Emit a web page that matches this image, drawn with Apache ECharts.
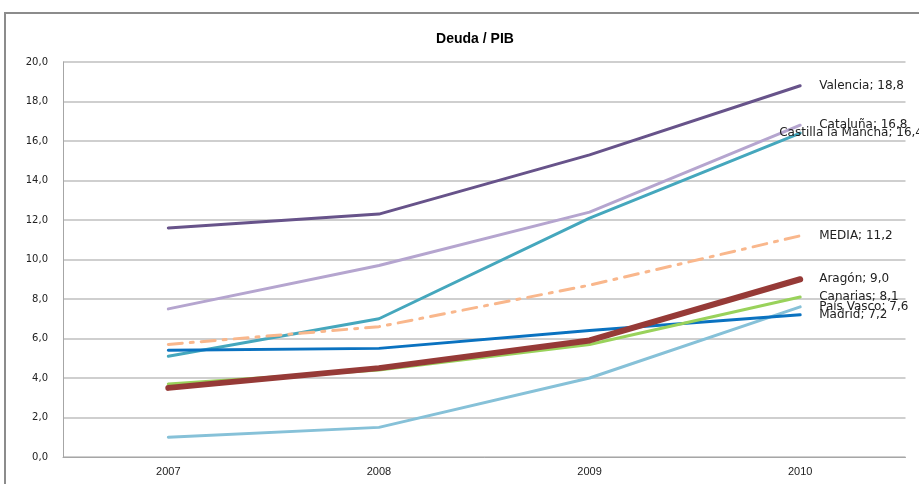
<!DOCTYPE html>
<html>
<head>
<meta charset="utf-8">
<script src="https://cdn.jsdelivr.net/npm/echarts@6/dist/echarts.min.js"></script>
<style>
  html, body { margin: 0; padding: 0; background: #fff; }
  #chart { width: 919px; height: 484px; }
</style>
</head>
<body>
<div id="chart"></div>
<script>
// datos
const years = ['2007', '2008', '2009', '2010'];
const valencia = [11.6, 12.3, 15.3, 18.8];
const cataluna = [7.5, 9.7, 12.4, 16.8];
const castilla = [5.1, 7.0, 12.1, 16.4];
const media = [5.7, 6.6, 8.7, 11.2];
const aragon = [3.5, 4.5, 5.9, 9.0];
const canarias = [3.7, 4.4, 5.7, 8.1];
const paisVasco = [1.0, 1.5, 4.0, 7.6];
const madrid = [5.4, 5.5, 6.4, 7.2];

const chart = echarts.init(document.getElementById('chart'));

// formato con coma decimal
function fmt(v) {
  return v.toFixed(1).replace('.', ',');
}

function line(name, data, color, width, type, dist) {
  return {
    name: name,
    type: 'line',
    data: data,
    symbol: 'none',
    silent: true,
    lineStyle: { color: color, width: width, type: type || 'solid', cap: 'round' },
    endLabel: {
      show: true,
      distance: dist == null ? 19 : dist,
      fontFamily: 'DejaVu Sans',
      fontSize: 12,
      color: '#222',
      formatter: (p) => p.seriesName + '; ' + fmt(p.value)
    }
  };
}

const option = {
  animation: false,
  title: {
    text: 'Deuda / PIB',
    left: 470,
    top: 27,
    textAlign: 'center',
    textStyle: { fontFamily: 'Liberation Sans', fontSize: 14, fontWeight: 'bold', color: '#000' }
  },
  graphic: [{
    type: 'polyline',
    shape: { points: [[5, 484], [5, 13], [919, 13]] },
    style: { stroke: '#8c8c8c', lineWidth: 2, fill: null }
  }],
  grid: { left: 63, right: 13.5, top: 62, bottom: 27 },
  xAxis: {
    type: 'category',
    data: years,
    boundaryGap: true,
    axisLine: { lineStyle: { color: '#a6a6a6' } },
    axisTick: { show: false },
    axisLabel: { fontFamily: 'Liberation Sans', fontSize: 11, color: '#222', margin: 9 }
  },
  yAxis: {
    type: 'value',
    min: 0,
    max: 20,
    interval: 2,
    axisLine: { show: true, lineStyle: { color: '#a6a6a6' } },
    axisTick: { show: false },
    splitLine: { lineStyle: { color: '#bfbfbf', width: 1.5 } },
    axisLabel: { fontFamily: 'DejaVu Sans', fontSize: 10, color: '#222', margin: 15, formatter: fmt }
  },
  series: [
    line('Valencia', valencia, '#67538a', 3),
    line('Cataluña', cataluna, '#b5a5cf', 3),
    line('Castilla la Mancha', castilla, '#45a7bd', 3, null, -21),
    line('MEDIA', media, '#f9b78c', 3, [14, 8, 3, 8]),
    line('País Vasco', paisVasco, '#86c1d8', 3),
    line('Madrid', madrid, '#0a72c0', 3),
    line('Canarias', canarias, '#99d25b', 3),
    line('Aragón', aragon, '#963a37', 6)
  ]
};

chart.setOption(option);
</script>
</body>
</html>
